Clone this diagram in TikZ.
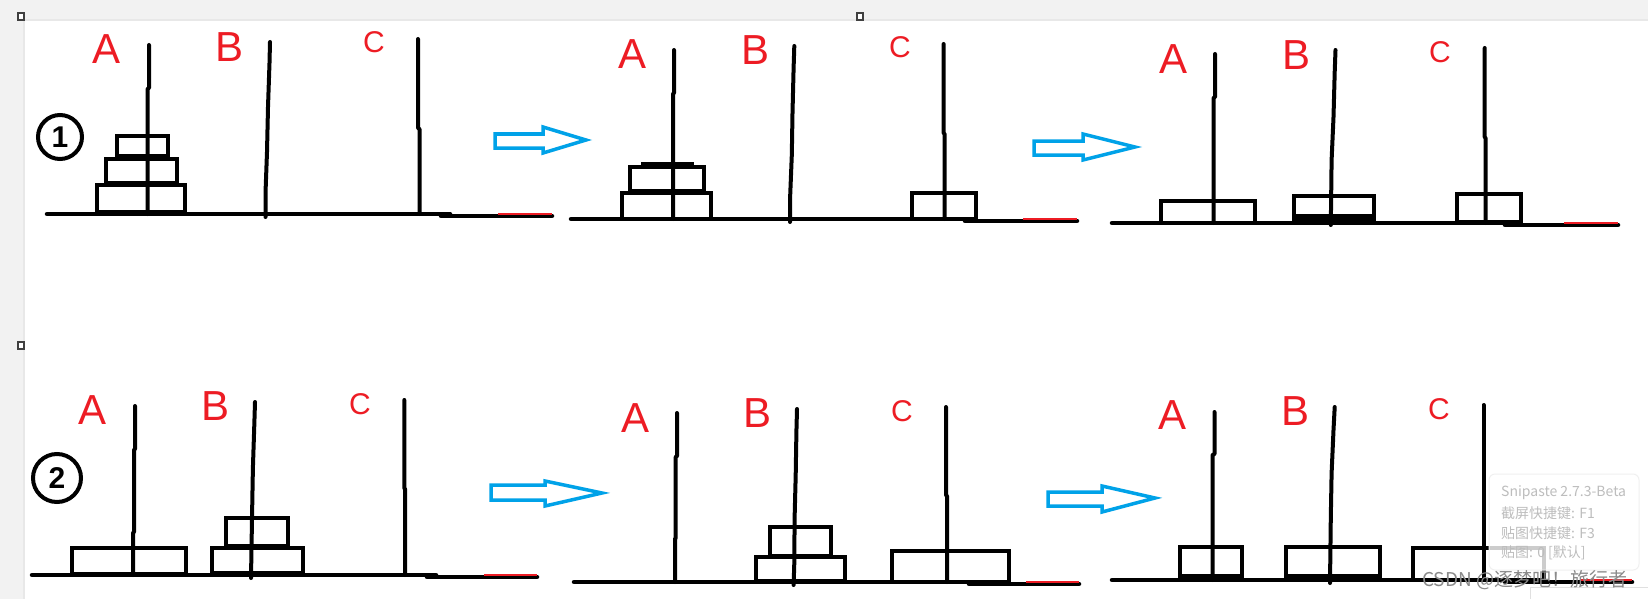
\documentclass[tikz,border=0pt]{standalone}
\usepackage{fontspec}
\setmainfont{Liberation Sans}
\newfontfamily\cjkfont{Noto Sans CJK SC}
\definecolor{paintred}{HTML}{ED1C24}
\definecolor{paintblue}{HTML}{00A2E8}
\definecolor{stripgrey}{HTML}{F2F2F2}
\definecolor{tiptext}{HTML}{BDBDBD}
\definecolor{wmgrey}{HTML}{8A8A8A}
\begin{document}
\begin{tikzpicture}[x=1pt,y=-1pt,
  peg/.style={line width=4pt, line cap=round, line join=round},
  baseline/.style={line width=4.5pt, line cap=round},
  disc/.style={line width=4pt},
  redmark/.style={draw=paintred, line width=1.5pt},
  lbl/.style={text=paintred, inner sep=0pt, font=\fontsize{42}{42}\selectfont},
  lblc/.style={text=paintred, inner sep=0pt, font=\fontsize{30}{30}\selectfont},
  bluearrow/.style={draw=paintblue, line width=3.5pt, line join=miter},
  num/.style={circle, draw, line width=4pt, inner sep=0pt, font=\fontsize{30}{30}\selectfont\bfseries},
  handle/.style={draw=black!75, fill=white, line width=1.2pt},
  tipbox/.style={fill=white, fill opacity=0.8, draw=black!6, line width=1pt, rounded corners=6pt},
  tiptxt/.style={text=tiptext, inner sep=0pt, anchor=west, font=\cjkfont\fontsize{14}{14}\selectfont},
  wm/.style={text=wmgrey, inner sep=0pt, anchor=west, font=\cjkfont\fontsize{19}{19}\selectfont}
]
\useasboundingbox (0,0) rectangle (1648,599);
% window background
\fill[stripgrey] (0,0) rectangle (1648,599);
\fill[white] (24,20) rectangle (1648,599);
\draw[black!9, line width=1.2pt] (24,599) -- (24,20) -- (1648,20);
\draw[handle] (18,13) rectangle (24,20);
\draw[handle] (857,13) rectangle (863,20);
\draw[handle] (18,342) rectangle (24,349);

% ================= Panel 1 =================
\draw[baseline] (47,214) -- (450,214);
\draw[baseline] (441,216) -- (552,216);
\draw[redmark] (498,214) -- (552,214);
\draw[disc] (117,136) rectangle (168,156);
\draw[disc] (106,159) rectangle (177,183);
\draw[disc] (97,185) rectangle (185,212);
\draw[peg] (149,45) -- (149,88) -- (147.5,89) -- (147.5,214);
\draw[peg] (270,42) -- (269.5,63) -- (268,107) -- (267,152) -- (265.5,193) -- (265.5,217);
\draw[peg] (418,39) -- (418,128) -- (419.5,129) -- (419.5,214);
\node[num, minimum size=44pt] (n1) at (60,137) {1};
\node[lbl] (a1) at (107,49) {A};
\node[lbl] (b1) at (230,47) {B};
\node[lblc] (c1) at (374,42) {C};
\draw[bluearrow] (495,134) -- (543,134) -- (543,127) -- (586,140) -- (543,153) -- (543,148) -- (495,148) -- cycle;

% ================= Panel 2 =================
\draw[baseline] (571,219) -- (965,219);
\draw[baseline] (965,221) -- (1077,221);
\draw[redmark] (1023,219) -- (1077,219);
\draw[disc] (630,167) rectangle (704,191);
\draw[disc] (641,164) -- (694,164);
\draw[disc] (622,193) rectangle (711,219);
\draw[disc] (912,193) rectangle (976,219);
\draw[peg] (674,50) -- (674,93) -- (673,94) -- (673,219);
\draw[peg] (794.3,46) -- (793.6,68) -- (792.5,113) -- (791.8,155) -- (790,200) -- (790,222);
\draw[peg] (943.6,44) -- (943.6,133) -- (944.6,134) -- (944.6,219);
\node[lbl] (a2) at (632,54) {A};
\node[lbl] (b2) at (755,50) {B};
\node[lblc] (c2) at (900,47) {C};
\draw[bluearrow] (1034,141) -- (1083,141) -- (1083,134) -- (1135,147) -- (1083,160) -- (1083,155) -- (1034,155) -- cycle;

% ================= Panel 3 =================
\draw[baseline] (1112,223) -- (1505,223);
\draw[baseline] (1505,225) -- (1618,225);
\draw[redmark] (1564,223) -- (1618,223);
\draw[disc] (1161,201) rectangle (1255,223);
\draw[disc] (1294,196) rectangle (1374,219);
\draw[disc] (1296,216) -- (1372,216);
\draw[disc] (1457,194) rectangle (1521,222);
\draw[peg] (1215,54) -- (1215,97) -- (1213.5,98) -- (1213.5,223);
\draw[peg] (1335.5,50) -- (1334.7,72) -- (1333.5,117) -- (1331.6,160) -- (1330.8,225);
\draw[peg] (1484.7,48) -- (1484.7,137) -- (1485.5,138) -- (1485.5,223);
\node[lbl] (a3) at (1173,59) {A};
\node[lbl] (b3) at (1296,55) {B};
\node[lblc] (c3) at (1440,52) {C};

% ================= Panel 4 =================
\draw[baseline] (32,575) -- (436,575);
\draw[baseline] (427,577) -- (537,577);
\draw[redmark] (484,575) -- (537,575);
\draw[disc] (72,548) rectangle (186,574);
\draw[disc] (212,548) rectangle (303,573);
\draw[disc] (226,518) rectangle (288,546);
\draw[peg] (135,406) -- (135,449) -- (134,450) -- (134,532) -- (133,533) -- (133,575);
\draw[peg] (255,402) -- (254.3,425) -- (252.9,468) -- (252.1,513) -- (251,578);
\draw[peg] (404.3,400) -- (404.3,488) -- (405,489) -- (405,575);
\node[num, minimum size=48pt] (n2) at (57,478) {2};
\node[lbl] (a4) at (93,410) {A};
\node[lbl] (b4) at (216,406) {B};
\node[lblc] (c4) at (360,404) {C};
\draw[bluearrow] (491,485) -- (545,485) -- (545,481) -- (602,493) -- (545,506) -- (545,500) -- (491,500) -- cycle;

% ================= Panel 5 =================
\draw[baseline] (574,582) -- (977,582);
\draw[baseline] (969,584) -- (1079,584);
\draw[redmark] (1026,582) -- (1079,582);
\draw[disc] (770,527) rectangle (831,556);
\draw[disc] (756,557) rectangle (845,581);
\draw[disc] (892,551) rectangle (1009,582);
\draw[peg] (677,413) -- (677,456) -- (675.7,457) -- (675.7,538) -- (675,539) -- (675,582);
\draw[peg] (797,409) -- (796.4,432) -- (795.7,475) -- (794.6,518) -- (794.3,563) -- (793.6,585);
\draw[peg] (946,407) -- (946,495) -- (947,496) -- (947,582);
\node[lbl] (a5) at (635,418) {A};
\node[lbl] (b5) at (757,413) {B};
\node[lblc] (c5) at (902,411) {C};
\draw[bluearrow] (1048,492) -- (1102,492) -- (1102,486) -- (1155,498) -- (1102,512) -- (1102,506) -- (1048,506) -- cycle;

% ================= Panel 6 =================
\draw[baseline] (1112,580) -- (1505,580);
\draw[baseline] (1505,582) -- (1632,582);
\draw[redmark] (1580,580) -- (1632,580);
\draw[disc] (1180,547) rectangle (1242,576);
\draw[disc] (1286,547) rectangle (1380,576);
\draw[disc] (1413,548) rectangle (1544,580);
\draw[peg] (1214.5,412) -- (1214.5,454) -- (1212.5,455) -- (1212.5,580);
\draw[peg] (1334.7,407) -- (1333.5,430) -- (1331.6,473) -- (1330.8,517) -- (1330,583);
\draw[peg] (1483.5,405) -- (1483.5,580);
\node[lbl] (a6) at (1172,415) {A};
\node[lbl] (b6) at (1295,411) {B};
\node[lblc] (c6) at (1439,409) {C};

% ================= tooltip and watermark =================
\draw[tipbox] (1489,474) rectangle (1639,570);
\node[tiptxt] (t1) at (1501,493) {Snipaste 2.7.3-Beta};
\node[tiptxt] (t2) at (1501,513) {截屏快捷键: F1};
\node[tiptxt] (t3) at (1501,533) {贴图快捷键: F3};
\node[tiptxt] (t4) at (1501,553) {贴图: 0 [默认]};
\draw[black!12, line width=1pt, rounded corners=4pt] (1530,587) -- (1530,605) (1530,587) -- (1660,587);
\node[wm] (wmk) at (1422,580) {CSDN @逐梦吧！旅行者};
\end{tikzpicture}
\end{document}
